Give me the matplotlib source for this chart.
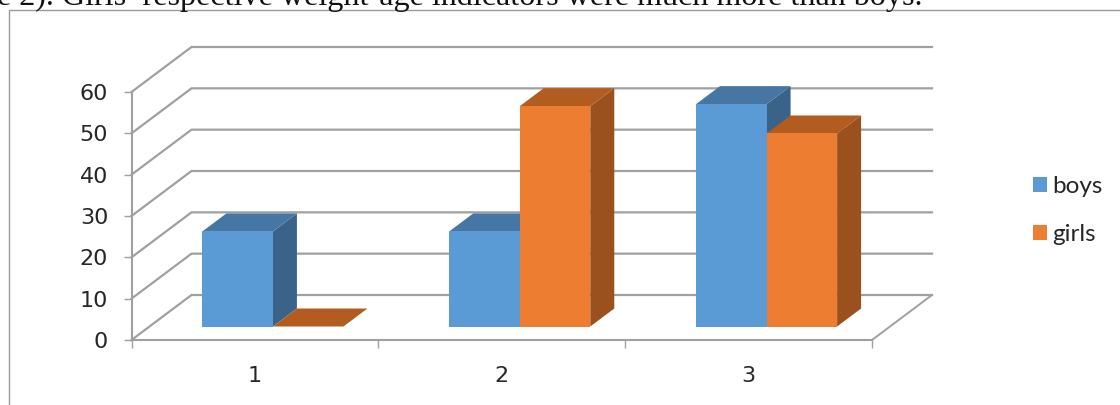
import matplotlib
matplotlib.use("Agg")
import matplotlib.pyplot as plt
from matplotlib.patches import Patch, Polygon
from matplotlib.lines import Line2D

categories = ["1", "2", "3"]
boys = [23, 23, 53.8]
girls = [0, 53.3, 46.7]
y_ticks = [0, 10, 20, 30, 40, 50, 60]
caption = "e 2). Girls\u2019 respective weight-age indicators were much more than boys."

W, H = 1120, 405
fig = plt.figure(figsize=(W / 100, H / 100), dpi=100, facecolor="white")
ax = fig.add_axes([131.5 / W, 1 - 340 / H, 740.5 / W, 248 / H])
ax.set_xlim(0, 3)
ax.set_ylim(0, 60)
ax.patch.set_visible(False)

plt.rcParams["font.family"] = ["Lato", "DejaVu Sans"]
LABEL = "#262626"
GRID = "#a0a0a0"

# Oblique projection: full chart depth shifts a point right and up
DEPTH_X = 60 / (740.5 / 3)
DEPTH_Y = 45 / (248 / 60)


def proj(x, y, d):
    return (x + d * DEPTH_X, y + d * DEPTH_Y)


# Back wall gridlines and the matching diagonals on the side wall
for v in y_ticks:
    x0, y0 = proj(0, v, 0)
    x1, y1 = proj(0, v, 1)
    x2, y2 = proj(3, v, 1)
    ax.plot([x0, x1, x2], [y0, y1, y2], color=GRID, lw=1.6, clip_on=False,
            solid_joinstyle="miter", zorder=1)

# Right edge of the floor
x0, y0 = proj(3, 0, 0)
x1, y1 = proj(3, 0, 1)
ax.plot([x0, x1], [y0, y1], color=GRID, lw=1.4, clip_on=False, zorder=1)


def bar3d(left, width, value, front, top, side, z):
    d0, d1 = 0.3, 0.7
    r = left + width
    faces = [
        (side, [proj(r, 0, d0), proj(r, 0, d1), proj(r, value, d1), proj(r, value, d0)]),
        (top, [proj(left, value, d0), proj(r, value, d0), proj(r, value, d1), proj(left, value, d1)]),
        (front, [proj(left, 0, d0), proj(r, 0, d0), proj(r, value, d0), proj(left, value, d0)]),
    ]
    for color, pts in faces:
        ax.add_patch(Polygon(pts, closed=True, facecolor=color, edgecolor="none",
                             clip_on=False, zorder=z))


BLUE = ("#5b9bd5", "#4676a4", "#3a6389")
ORANGE = ("#ed7d31", "#b35c20", "#9a511d")
BAR_W = 1 / 3.5
for i in range(len(categories)):
    start = i + 0.75 * BAR_W
    bar3d(start, BAR_W, boys[i], *BLUE, 3 + i)
    bar3d(start + BAR_W, BAR_W, girls[i], *ORANGE, 3 + i)

# Axes
for name in ("top", "right"):
    ax.spines[name].set_visible(False)
for name in ("left", "bottom"):
    ax.spines[name].set_color(GRID)
    ax.spines[name].set_linewidth(1.5)
    ax.spines[name].set_zorder(2)
ax.set_yticks(y_ticks)
ax.tick_params(axis="y", length=5.8, width=1, color=GRID, pad=11, labelsize=16, labelcolor=LABEL)
ax.set_xticks([0, 1, 2, 3])
ax.set_xticklabels([])
ax.set_xticks([0.5, 1.5, 2.5], minor=True)
ax.set_xticklabels(categories, minor=True)
ax.tick_params(axis="x", which="major", length=5.8, width=1, color=GRID)
ax.tick_params(axis="x", which="minor", length=0, pad=19, labelsize=16, labelcolor=LABEL)

# Legend
handles = [Patch(facecolor=BLUE[0], label="boys"), Patch(facecolor=ORANGE[0], label="girls")]
fig.legend(handles=handles, loc="center left", bbox_to_anchor=(1033 / W, 1 - 210.5 / H),
           frameon=False, fontsize=17.5, labelcolor=LABEL, handlelength=0.58, handleheight=0.58,
           handletextpad=0.2, labelspacing=1.12, borderpad=0, borderaxespad=0)

# Frame around the chart and the line of body text above it
fig.add_artist(Line2D([8.5 / W, 8.5 / W, 1], [0, 1 - 10 / H, 1 - 10 / H], color="#9a9a9a", lw=1,
                      transform=fig.transFigure))
fig.text(-3 / W, 1 - 5.5 / H, caption, family=["Liberation Serif"], fontsize=23.1, color="#111111",
         ha="left", va="baseline")

fig.savefig("out.png", dpi=100)
